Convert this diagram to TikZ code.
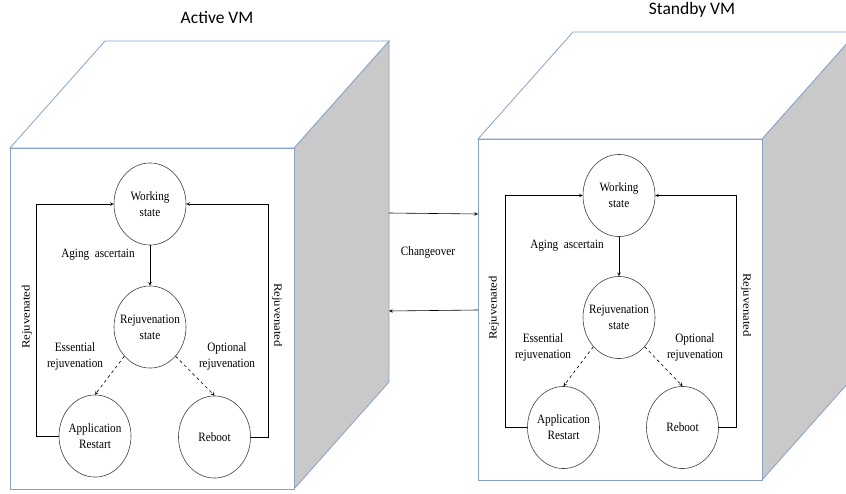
\documentclass[tikz,border=0pt]{standalone}
\usepackage{fontspec}
\setmainfont{Liberation Serif}
\newfontfamily\titlefont{Carlito}
\usepackage{tikz}
\definecolor{vmedge}{RGB}{135,162,198}
\definecolor{vmside}{RGB}{201,201,201}

\begin{document}
\begin{tikzpicture}[x=1pt,y=-1pt,line width=0.6pt,
  st/.style={draw=black!75,circle,minimum size=72pt,inner sep=0pt,align=center,yscale=1.14,transform shape,font=\fontsize{11.2}{14}\selectfont},
  lbl/.style={align=center,yscale=1.14,transform shape,font=\fontsize{11.2}{14}\selectfont},
  cube/.style={draw=vmedge,line width=0.8pt}]
\clip (0,0) rectangle (846,493);

% Active VM box
\draw[cube,fill=vmside] (294,148) -- (389,41) -- (389,382) -- (294,489) -- cycle;
\draw[cube,fill=white] (10,148) -- (105,41) -- (389,41) -- (294,148) -- cycle;
\draw[cube,fill=white] (10,148) rectangle (294,489);
\node (t) at (217,18) {\titlefont\fontsize{17.5}{20}\selectfont Active VM};

% Standby VM box
\draw[cube,fill=vmside] (762,139) -- (857,32) -- (857,373) -- (762,480) -- cycle;
\draw[cube,fill=white] (478,139) -- (573,32) -- (857,32) -- (762,139) -- cycle;
\draw[cube,fill=white] (478,139) rectangle (762,480);
\node (t') at (692,10) {\titlefont\fontsize{17.5}{20}\selectfont Standby VM};

\node[st] (1) at (150,204) {Working\\state};
\node[st] (2) at (150,327) {Rejuvenation\\state};
\node[st] (3) at (95,436) {Application\\Restart};
\node[st] (4) at (214.5,437) {Reboot};

\node[lbl] (l1) at (98,255) {Aging\ \ ascertain};
\node[lbl] (l2) at (75,356) {Essential\\rejuvenation};
\node[lbl] (l3) at (227,356) {Optional\\rejuvenation};
\node[lbl,rotate=90] (l4) at (27,317) {Rejuvenated};
\node[lbl,rotate=-90] (l5) at (277,315) {Rejuvenated};

\draw[->,>=stealth] (1) -- (2);
\draw[->,>=stealth,dashed] (2.south west) -- (3.north);
\draw[->,>=stealth,dashed] (2.south east) -- (4.north);
\draw[->,>=stealth] (3.west) -- ++(-22,0) |- (1.west);
\draw[->,>=stealth] (4.east) -- ++(17,0) |- (1.east);

\node[st] (1') at (619,195.5) {Working\\state};
\node[st] (2') at (619,317.5) {Rejuvenation\\state};
\node[st] (3') at (563.5,427.5) {Application\\Restart};
\node[st] (4') at (682.5,427.5) {Reboot};

\node[lbl] (l1') at (567,246) {Aging\ \ ascertain};
\node[lbl] (l2') at (543,347) {Essential\\rejuvenation};
\node[lbl] (l3') at (695,347) {Optional\\rejuvenation};
\node[lbl,rotate=90] (l4') at (494,308) {Rejuvenated};
\node[lbl,rotate=-90] (l5') at (746,305) {Rejuvenated};

\draw[->,>=stealth] (1') -- (2');
\draw[->,>=stealth,dashed] (2'.south west) -- (3'.north);
\draw[->,>=stealth,dashed] (2'.south east) -- (4'.north);
\draw[->,>=stealth] (3'.west) -- ++(-22,0) |- (1'.west);
\draw[->,>=stealth] (4'.east) -- ++(17,0) |- (1'.east);

% changeover between the two
\coordinate (c1) at (389,213);
\coordinate (c2) at (478,214);
\coordinate (c3) at (478,310);
\coordinate (c4) at (389,311);
\node[lbl] (co) at (428,252) {Changeover};
\draw[->,>=stealth] (c1) -- (c2);
\draw[->,>=stealth] (c3) -- (c4);
\end{tikzpicture}
\end{document}
